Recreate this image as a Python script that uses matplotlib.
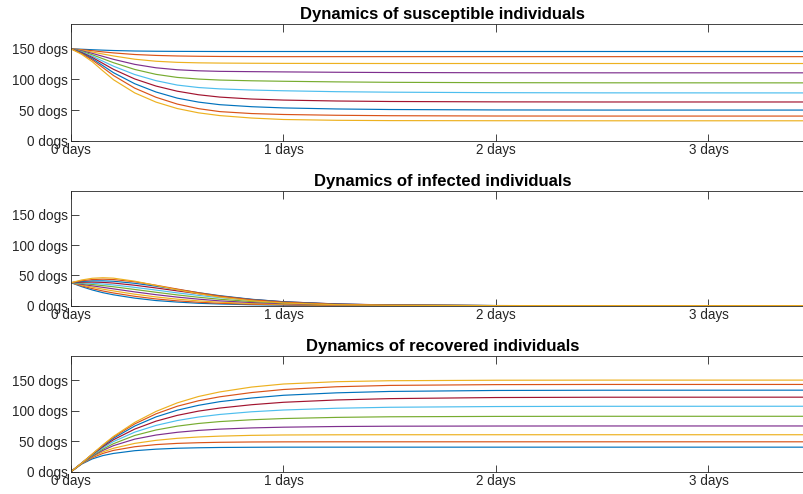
import matplotlib
matplotlib.use("Agg")
import matplotlib.pyplot as plt

plt.rcParams['font.family'] = ['Liberation Sans', 'DejaVu Sans']

# time axis (days)
t_days = [0, 0.05, 0.1, 0.15, 0.2, 0.3, 0.4, 0.5, 0.6, 0.7, 0.85, 1.0, 1.25, 1.5, 2.0, 2.5, 3.5]

# susceptible dogs, one list per scenario
S0 = [150, 149.3, 148.5, 147.8, 147.2, 146.4, 146.0, 145.8, 145.7, 145.6, 145.6, 145.6, 145.6, 145.6, 145.6, 145.6, 145.6]
S1 = [150, 148.6, 146.9, 145.0, 143.3, 140.7, 139.2, 138.3, 137.8, 137.5, 137.3, 137.2, 137.2, 137.2, 137.2, 137.2, 137.2]
S2 = [150, 147.7, 144.8, 141.5, 138.3, 133.0, 129.7, 127.9, 127.1, 126.7, 126.4, 126.2, 126.1, 126.0, 126.0, 126.0, 126.0]
S3 = [150, 146.8, 142.6, 137.7, 132.8, 124.6, 119.0, 115.8, 114.1, 113.2, 112.7, 112.3, 111.7, 111.3, 110.9, 110.8, 110.8]
S4 = [150, 145.8, 140.3, 133.8, 127.3, 116.3, 108.3, 103.3, 100.6, 99.0, 97.8, 97.0, 96.0, 95.3, 94.7, 94.5, 94.4]
S5 = [150, 144.9, 138.0, 129.8, 121.6, 108.0, 98.0, 90.8, 86.8, 84.6, 82.7, 81.5, 80.0, 79.2, 78.4, 78.1, 78.0]
S6 = [150, 144.0, 135.9, 126.2, 116.5, 100.8, 89.2, 80.8, 75.0, 71.2, 68.0, 66.3, 64.8, 64.0, 63.4, 63.2, 63.2]
S7 = [150, 143.1, 133.8, 122.5, 111.0, 93.0, 79.5, 69.5, 63.0, 58.8, 55.5, 53.5, 51.8, 50.9, 50.2, 50.0, 50.0]
S8 = [150, 142.2, 131.8, 119.3, 106.4, 85.8, 70.9, 59.8, 52.3, 47.5, 44.3, 42.8, 41.5, 40.8, 40.3, 40.2, 40.2]
S9 = [150, 141.0, 129.0, 114.0, 99.5, 78.0, 63.0, 52.5, 45.5, 41.0, 37.0, 34.6, 33.3, 32.8, 32.6, 32.5, 32.5]

# infected dogs
I0 = [38, 31.5, 26.0, 21.5, 18.0, 12.5, 8.5, 6.0, 4.0, 2.8, 1.6, 0.9, 0.4, 0.15, 0.02, 0, 0]
I1 = [38, 32.8, 28.2, 24.3, 21.0, 15.5, 11.2, 8.0, 5.7, 4.0, 2.4, 1.4, 0.6, 0.25, 0.04, 0, 0]
I2 = [38, 34.0, 30.5, 27.3, 24.4, 19.0, 14.5, 10.8, 8.0, 5.8, 3.6, 2.2, 1.0, 0.45, 0.08, 0.01, 0]
I3 = [38, 35.3, 32.8, 30.3, 27.8, 22.8, 18.2, 14.2, 10.8, 8.0, 5.2, 3.3, 1.5, 0.7, 0.13, 0.02, 0]
I4 = [38, 36.6, 35.0, 33.2, 31.3, 26.8, 22.2, 17.8, 14.0, 10.6, 6.9, 4.4, 2.0, 0.9, 0.18, 0.03, 0]
I5 = [38, 37.7, 37.0, 35.8, 34.3, 30.3, 25.8, 21.2, 17.0, 13.3, 8.8, 5.7, 2.6, 1.1, 0.22, 0.04, 0]
I6 = [38, 38.8, 39.0, 38.5, 37.4, 33.8, 29.3, 24.5, 19.8, 15.6, 10.3, 6.5, 2.9, 1.2, 0.22, 0.04, 0]
I7 = [38, 40.0, 41.0, 41.1, 40.4, 37.0, 32.2, 26.8, 21.5, 16.6, 10.6, 6.5, 2.7, 1.1, 0.2, 0.03, 0]
I8 = [38, 41.2, 43.2, 43.8, 43.2, 39.5, 33.8, 27.5, 21.4, 16.0, 9.8, 5.8, 2.3, 0.9, 0.15, 0.02, 0]
I9 = [38, 42.5, 45.3, 46.2, 45.5, 40.5, 33.5, 26.3, 19.8, 14.2, 8.2, 4.6, 1.7, 0.7, 0.1, 0.01, 0]

# recovered dogs
R0 = [0, 12.5, 21.0, 26.5, 30.0, 34.5, 37.0, 38.5, 39.3, 39.8, 40.1, 40.3, 40.3, 40.3, 40.3, 40.3, 40.3]
R1 = [0, 13.0, 23.0, 30.0, 35.0, 41.0, 44.5, 46.5, 47.6, 48.3, 48.8, 49.0, 49.1, 49.1, 49.1, 49.1, 49.1]
R2 = [0, 13.2, 24.3, 32.5, 38.5, 46.5, 51.5, 54.8, 57.0, 58.4, 59.7, 60.3, 60.6, 60.7, 60.7, 60.7, 60.7]
R3 = [0, 13.4, 25.3, 35.0, 42.8, 53.5, 60.2, 64.7, 67.8, 69.9, 71.9, 73.1, 74.2, 74.7, 75.0, 75.1, 75.1]
R4 = [0, 13.6, 26.3, 37.0, 46.0, 59.5, 68.5, 74.8, 79.2, 82.3, 85.3, 87.3, 89.2, 90.2, 90.8, 91.0, 91.0]
R5 = [0, 13.8, 27.2, 39.0, 49.5, 65.0, 76.0, 84.0, 89.8, 94.0, 98.4, 101.3, 104.2, 105.8, 107.0, 107.4, 107.5]
R6 = [0, 14.0, 28.0, 41.0, 52.5, 70.0, 83.0, 92.5, 99.5, 104.5, 110.0, 114.0, 117.8, 120.0, 121.8, 122.3, 122.4]
R7 = [0, 14.0, 28.5, 42.5, 55.0, 75.0, 90.0, 101.0, 109.0, 115.0, 121.0, 125.5, 129.5, 131.8, 133.4, 133.8, 133.9]
R8 = [0, 14.0, 28.8, 43.3, 57.0, 78.5, 95.0, 107.5, 116.5, 123.0, 130.0, 135.0, 139.5, 141.7, 143.0, 143.3, 143.3]
R9 = [0, 14.0, 29.0, 44.0, 58.0, 81.0, 99.0, 113.0, 123.5, 131.0, 139.0, 144.0, 147.8, 149.4, 150.2, 150.4, 150.4]

titles = ['Dynamics of susceptible individuals',
          'Dynamics of infected individuals',
          'Dynamics of recovered individuals']
y_ticks = [0, 50, 100, 150]
y_tick_labels = ['0 dogs', '50 dogs', '100 dogs', '150 dogs']
x_ticks = [0, 1, 2, 3]
x_tick_labels = ['0 days', '1 days', '2 days', '3 days']

colors = ['#0072BD', '#D95319', '#EDB120', '#7E2F8E', '#77AC30', '#4DBEEE', '#A2142F']

panels = [[S0, S1, S2, S3, S4, S5, S6, S7, S8, S9],
          [I0, I1, I2, I3, I4, I5, I6, I7, I8, I9],
          [R0, R1, R2, R3, R4, R5, R6, R7, R8, R9]]

W, H = 804, 494
fig = plt.figure(figsize=(W / 100, H / 100), dpi=100)
# (top px, bottom px) of each axes box
boxes = [(24.3, 140.7), (190.7, 305.7), (356.0, 471.7)]
left_px = 71
xmax = 3.5
px_per_day = 212.5

for ax_i, (curves, title, (top, bot)) in enumerate(zip(panels, titles, boxes)):
    ax = fig.add_axes([left_px / W, 1 - bot / H, xmax * px_per_day / W, (bot - top) / H])
    for k, y in enumerate(curves):
        ax.plot(t_days, y, color=colors[k % len(colors)], lw=0.85, solid_joinstyle='round')
    ax.set_xlim(0, xmax)
    ax.set_ylim(0, 190)
    ax.set_xticks(x_ticks)
    ax.set_xticklabels(x_tick_labels)
    ax.set_yticks(y_ticks)
    ax.set_yticklabels(y_tick_labels)
    ax.tick_params(direction='in', length=5.4, width=0.6, colors='#262626',
                   labelsize=9.75, top=True, right=True, pad=2.5)
    ax.tick_params(axis='x', pad=2)
    for s in ax.spines.values():
        s.set_color('#262626')
        s.set_linewidth(0.6)
    ax.set_title(title, fontweight='bold', fontsize=12, color='black', pad=3.5)

fig.savefig('out.png', dpi=100)
